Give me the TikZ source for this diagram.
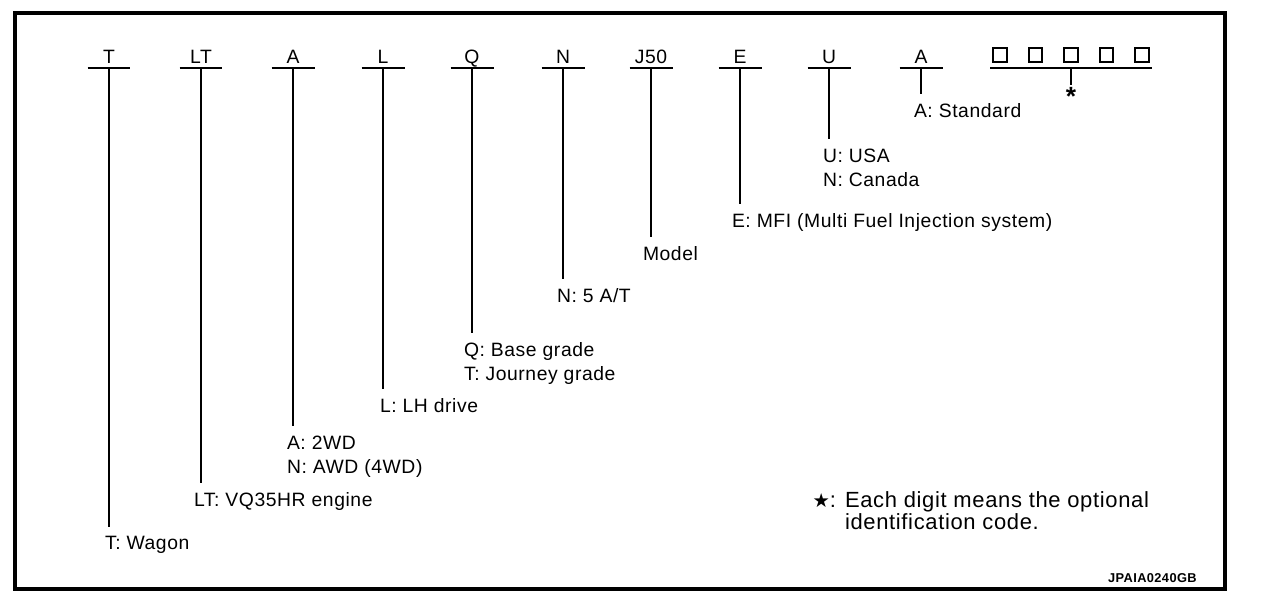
\documentclass[tikz,border=0pt]{standalone}
\usepackage{fontspec}
\setmainfont[LetterSpace=3]{Liberation Sans}
\newfontfamily\symfont{DejaVu Sans}

\begin{document}
\begin{tikzpicture}[x=0.02cm,y=-0.02cm,font=\fontsize{11}{13.6}\selectfont,
	code/.style={inner xsep=0pt,inner ysep=2.6pt,outer sep=0pt,text depth=0pt,minimum width=0.86cm,anchor=south},
	desc/.style={inner sep=0pt,outer xsep=0pt,outer ysep=5.5pt,anchor=north west,align=left},
	digitbox/.style={draw,line width=1.2pt,minimum size=0.27cm,inner sep=0pt},
	lead/.style={line width=1.1pt},
	leadthin/.style={line width=0.6pt}]
		\useasboundingbox (0,0) rectangle (1264,600);
		\draw[line width=2.3pt] (15,13) rectangle (1225,589);
			\node[code] (cT) at (109,68) {T};
			\node[code] (cLT) at (201,68) {LT};
			\node[code] (cA) at (293,68) {A};
			\node[code] (cL) at (383,68) {L};
			\node[code] (cQ) at (472,68) {Q};
			\node[code] (cN) at (563,68) {N};
			\node[code] (cJ) at (651,68) {J50};
			\node[code] (cE) at (740,68) {E};
			\node[code] (cU) at (829,68) {U};
			\node[code] (cS) at (921,68) {A};
			\node[desc] (dT) at (105,527) {T: Wagon};
			\node[desc] (dLT) at (194,483) {LT: VQ35HR engine};
			\node[desc] (dA) at (287,426) {A: 2WD\\N: AWD (4WD)};
			\node[desc] (dL) at (380,389) {L: LH drive};
			\node[desc] (dQ) at (464,333) {Q: Base grade\\T: Journey grade};
			\node[desc] (dN) at (557,279) {N: 5 A/T};
			\node[desc] (dJ) at (643,237) {Model};
			\node[desc] (dE) at (732,204) {E: MFI (Multi Fuel Injection system)};
			\node[desc] (dU) at (823,139) {U: USA\\N: Canada};
			\node[desc] (dS) at (914,94) {A: Standard};
		\draw[leadthin] (cT.south west) -- (cT.south east);
		\draw[lead] (cT.south) -- (cT.south |- dT.north);
		\draw[leadthin] (cLT.south west) -- (cLT.south east);
		\draw[leadthin] (cLT.south) -- (cLT.south |- dLT.north);
		\draw[lead] (cA.south west) -- (cA.south east);
		\draw[lead] (cA.south) -- (cA.south |- dA.north);
		\draw[lead] (cL.south west) -- (cL.south east);
		\draw[lead] (cL.south) -- (cL.south |- dL.north);
		\draw[lead] (cQ.south west) -- (cQ.south east);
		\draw[lead] (cQ.south) -- (cQ.south |- dQ.north);
		\draw[lead] (cN.south west) -- (cN.south east);
		\draw[lead] (cN.south) -- (cN.south |- dN.north);
		\draw[leadthin] (cJ.south west) -- (cJ.south east);
		\draw[leadthin] (cJ.south) -- (cJ.south |- dJ.north);
		\draw[lead] (cE.south west) -- (cE.south east);
		\draw[lead] (cE.south) -- (cE.south |- dE.north);
		\draw[lead] (cU.south west) -- (cU.south east);
		\draw[lead] (cU.south) -- (cU.south |- dU.north);
		\draw[lead] (cS.south west) -- (cS.south east);
		\draw[lead] (cS.south) -- (cS.south |- dS.north);
			\node[digitbox] (b1) at (1000,55) {};
			\node[digitbox] (b2) at (1035.5,55) {};
			\node[digitbox] (b3) at (1071,55) {};
			\node[digitbox] (b4) at (1106.5,55) {};
			\node[digitbox] (b5) at (1142,55) {};
			\coordinate (optL) at (990,68);
			\coordinate (optR) at (1152,68);
			\coordinate (optM) at (1071,68);
			\node[inner sep=0pt,outer sep=1.5pt,anchor=north,font=\fontsize{15}{15}\selectfont\bfseries] (star) at (1071,85) {*};
		\draw[leadthin] (optL) -- (optR);
		\draw[lead] (optM) -- (star.north);
			\node[desc,font=\fontsize{12.5}{13}\selectfont] (note) at (845,481.5) {\llap{{\symfont\fontsize{11}{11}\selectfont ★}: }Each digit means the optional\\identification code.};
			\node[anchor=east,inner sep=0pt,font=\fontsize{7.3}{8}\selectfont\bfseries] (fig) at (1197,578) {JPAIA0240GB};
	\end{tikzpicture}
\end{document}
